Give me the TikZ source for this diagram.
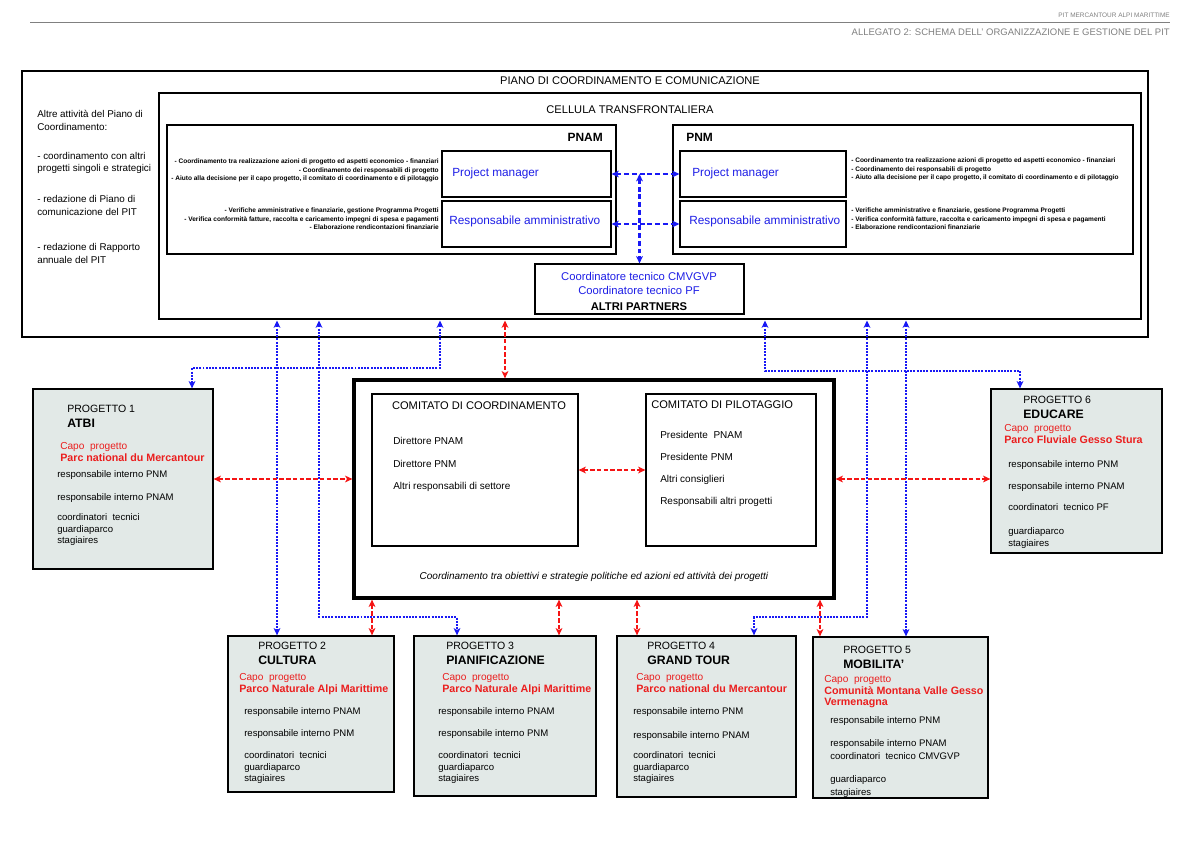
\documentclass[tikz,border=0pt]{standalone}
\usepackage{fontspec}
\setmainfont{Liberation Sans}
\usepackage{tikz}
\usetikzlibrary{arrows.meta, positioning, fit, calc}
\usepackage{xcolor}
\definecolor{pitblue}{RGB}{30,30,230}
\definecolor{pitred}{RGB}{235,30,30}
\definecolor{linkblue}{RGB}{25,25,245}
\definecolor{linkred}{RGB}{245,20,20}
\definecolor{progfill}{RGB}{226,233,231}
\definecolor{headgray}{RGB}{128,128,128}

\begin{document}
\begin{tikzpicture}[x=0.025cm, y=-0.025cm,
        >={Stealth[length=5.2pt, width=4.8pt, inset=1.4pt]},
        box/.style={rectangle, draw=black, line width=0.8pt, inner sep=0pt},
        thickbox/.style={box, line width=2.1pt},
        progbox/.style={box, fill=progfill, line width=0.9pt},
        txt/.style={inner sep=0pt, align=left, anchor=north west},
        bigtxt/.style={inner sep=0pt, font=\fontsize{7.9}{9.5}\selectfont},
        pmtxt/.style={inner sep=0pt, anchor=base west, text=pitblue, font=\fontsize{8.4}{10}\selectfont},
        desc/.style={inner sep=0pt, font=\fontsize{4.65}{6.1}\selectfont\bfseries},
        progtit/.style={txt, font=\fontsize{7.5}{10.7}\selectfont},
        capo/.style={txt, text=pitred, font=\fontsize{7.2}{8.1}\selectfont},
        staff/.style={txt, font=\fontsize{6.8}{8.2}\selectfont},
        bluelink/.style={<->, draw=linkblue, line width=1.5pt, dash pattern=on 1.4pt off 0.9pt},
        bluedash/.style={<->, draw=linkblue, line width=1.5pt, dash pattern=on 3.5pt off 2pt},
        redlink/.style={<->, draw=linkred, line width=1.3pt, dash pattern=on 3.2pt off 1.6pt},
    ]
    \path[use as bounding box, fill=white] (0,0) rectangle (1191,842);

    % Intestazione
    \draw[headgray, line width=0.6pt] (30,22) -- (1170,22);
    \node[inner sep=0pt, anchor=base east, text=headgray, font=\fontsize{4.6}{5}\selectfont] (pit) at (1170,17)
        {PIT MERCANTOUR ALPI MARITTIME};
    \node[inner sep=0pt, anchor=base east, text=headgray, font=\fontsize{6.75}{8}\selectfont] (allegato) at (1170,35)
        {ALLEGATO 2: SCHEMA DELL’ ORGANIZZAZIONE E GESTIONE DEL PIT};

    % Piano di coordinamento
    \node[box, fit={(22,71) (1148,337)}] (piano) {};
    \node[bigtxt, anchor=base] (pianotit) at (630,84) {PIANO DI COORDINAMENTO E COMUNICAZIONE};
    \node[txt, font=\fontsize{7.0}{9.1}\selectfont] (attivita) at (37,109.8)
        {Altre attività del Piano di\\Coordinamento:\\[11.5pt]- coordinamento con altri\\progetti singoli e strategici\\[12.6pt]- redazione di Piano di\\comunicazione del PIT\\[16.1pt]- redazione di Rapporto\\annuale del PIT};

    % Cellula transfrontaliera
    \node[thickbox, fit={(159,93) (1141,319)}] (cellula) {};
    \node[bigtxt, anchor=base] (cellulatit) at (630,113) {CELLULA TRANSFRONTALIERA};

    % PNAM
    \node[box, fit={(167,125) (616,254)}] (pnam) {};
    \node[inner sep=0pt, anchor=base east, font=\fontsize{8.5}{10}\selectfont\bfseries] (pnamtit) at (603,141.3) {PNAM};
    \node[box, fit={(442,151) (611,197)}] (pnamPM) {};
    \node[box, fit={(442,201) (611,247)}] (pnamRA) {};
    \node[pmtxt] (pnamPMtxt) at (452,176.3) {Project manager};
    \node[pmtxt] (pnamRAtxt) at (449,224.3) {Responsabile amministrativo};
    \node[desc, anchor=north east, align=right] (pnamPMdesc) at (439,158.5)
        {- Coordinamento tra realizzazione azioni di progetto ed aspetti economico - finanziari\\- Coordinamento dei responsabili di progetto\\- Aiuto alla decisione per il capo progetto, il comitato di coordinamento e di pilotaggio};
    \node[desc, anchor=north east, align=right] (pnamRAdesc) at (439,207.5)
        {- Verifiche amministrative e finanziarie, gestione Programma Progetti\\- Verifica conformità fatture, raccolta e caricamento impegni di spesa e pagamenti\\- Elaborazione rendicontazioni finanziarie};

    % PNM
    \node[box, fit={(673,125) (1133,254)}] (pnm) {};
    \node[inner sep=0pt, anchor=base west, font=\fontsize{8.5}{10}\selectfont\bfseries] (pnmtit) at (686,141.3) {PNM};
    \node[box, fit={(680,151) (846,197)}] (pnmPM) {};
    \node[box, fit={(680,201) (846,247)}] (pnmRA) {};
    \node[pmtxt] (pnmPMtxt) at (692,176.3) {Project manager};
    \node[pmtxt] (pnmRAtxt) at (689,224.3) {Responsabile amministrativo};
    \node[desc, anchor=north west, align=left] (pnmPMdesc) at (851,157.8)
        {- Coordinamento tra realizzazione azioni di progetto ed aspetti economico - finanziari\\- Coordinamento dei responsabili di progetto\\- Aiuto alla decisione per il capo progetto, il comitato di coordinamento e di pilotaggio};
    \node[desc, anchor=north west, align=left] (pnmRAdesc) at (851,207.8)
        {- Verifiche amministrative e finanziarie, gestione Programma Progetti\\- Verifica conformità fatture, raccolta e caricamento impegni di spesa e pagamenti\\- Elaborazione rendicontazioni finanziarie};

    % Coordinatori tecnici
    \node[box, fit={(535,264) (744,314)}] (coord) {};
    \node[inner sep=0pt, anchor=north, align=center, text=pitblue, font=\fontsize{8}{10}\selectfont] (coordtxt) at (639,271.9)
        {Coordinatore tecnico CMVGVP\\Coordinatore tecnico PF\\[1.4pt]\textcolor{black}{\bfseries ALTRI PARTNERS}};

    % Collegamenti interni
    \draw[bluedash] (pnamPM.east) -- (pnmPM.west);
    \draw[bluedash] (pnamRA.east) -- (pnmRA.west);
    \draw[bluedash] (pnamPM.east -| coord.north) -- (coord.north);

    % Comitati
    \node[thickbox, line width=2.3pt, fit={(354,380) (834,598)}] (comitato) {};
    \node[box, fit={(372,394) (578,546)}] (cdc) {};
    \node[box, fit={(646,394) (816,546)}] (cdp) {};
    \node[bigtxt, anchor=base] (cdctit) at (479,409) {COMITATO DI COORDINAMENTO};
    \node[bigtxt, anchor=base west] (cdptit) at (651,408) {COMITATO DI PILOTAGGIO};
    \node[txt, font=\fontsize{7.1}{16}\selectfont] (cdclist) at (393,437.3)
        {Direttore PNAM\\Direttore PNM\\Altri responsabili di settore};
    \node[txt, font=\fontsize{7.1}{15.65}\selectfont] (cdplist) at (660,431.3)
        {Presidente\ \ PNAM\\Presidente PNM\\Altri consiglieri\\Responsabili altri progetti};
    \node[inner sep=0pt, anchor=base, font=\fontsize{7.1}{9}\selectfont\itshape] (comitatonota) at (594,579.5)
        {Coordinamento tra obiettivi e strategie politiche ed azioni ed attività dei progetti};
    \draw[redlink] (cdc.east) -- (cdp.west);

    % Progetto 1
    \node[progbox, fit={(33,389) (213,569)}] (p1) {};
    \node[progtit] (p1tit) at (67,405) {PROGETTO 1\\\textbf{\fontsize{8.7}{10}\selectfont ATBI}};
    \node[capo] (p1capo) at (60,442.3) {Capo\ \ progetto\\\textbf{\fontsize{7.6}{8.1}\selectfont Parc national du Mercantour}};
    \node[staff] (p1staff) at (57,470.4)
        {responsabile interno PNM\\[8.2pt]responsabile interno PNAM\\[6pt]coordinatori\ \ tecnici\\guardiaparco\\stagiaires};

    % Progetto 6
    \node[progbox, fit={(991,389) (1162,553)}] (p6) {};
    \node[progtit] (p6tit) at (1023,396) {PROGETTO 6\\\textbf{\fontsize{8.7}{10}\selectfont EDUCARE}};
    \node[capo] (p6capo) at (1004,424.3) {Capo\ \ progetto\\\textbf{\fontsize{7.6}{8.1}\selectfont Parco Fluviale Gesso Stura}};
    \node[staff] (p6staff) at (1008,460.4)
        {responsabile interno PNM\\[7.5pt]responsabile interno PNAM\\[6.8pt]coordinatori\ \ tecnico PF\\[8.9pt]guardiaparco\\stagiaires};

    % Progetto 2
    \node[progbox, fit={(228,636) (394,792)}] (p2) {};
    \node[progtit] (p2tit) at (258,642) {PROGETTO 2\\\textbf{\fontsize{8.7}{10}\selectfont CULTURA}};
    \node[capo] (p2capo) at (239,673.3) {Capo\ \ progetto\\\textbf{\fontsize{7.6}{8.1}\selectfont Parco Naturale Alpi Marittime}};
    \node[staff] (p2staff) at (244,707.4)
        {responsabile interno PNAM\\[7.5pt]responsabile interno PNM\\[7.5pt]coordinatori\ \ tecnici\\guardiaparco\\stagiaires};

    % Progetto 3
    \node[progbox, fit={(414,636) (596,796)}] (p3) {};
    \node[progtit] (p3tit) at (446,642) {PROGETTO 3\\\textbf{\fontsize{8.7}{10}\selectfont PIANIFICAZIONE}};
    \node[capo] (p3capo) at (442,673.3) {Capo\ \ progetto\\\textbf{\fontsize{7.6}{8.1}\selectfont Parco Naturale Alpi Marittime}};
    \node[staff] (p3staff) at (438,707.4)
        {responsabile interno PNAM\\[7.5pt]responsabile interno PNM\\[7.5pt]coordinatori\ \ tecnici\\guardiaparco\\stagiaires};

    % Progetto 4
    \node[progbox, fit={(617,636) (796,797)}] (p4) {};
    \node[progtit] (p4tit) at (647,642) {PROGETTO 4\\\textbf{\fontsize{8.7}{10}\selectfont GRAND TOUR}};
    \node[capo] (p4capo) at (636,673.3) {Capo\ \ progetto\\\textbf{\fontsize{7.6}{8.1}\selectfont Parco national du Mercantour}};
    \node[staff] (p4staff) at (633,707.4)
        {responsabile interno PNM\\[8.9pt]responsabile interno PNAM\\[6pt]coordinatori\ \ tecnici\\guardiaparco\\stagiaires};

    % Progetto 5
    \node[progbox, fit={(813,637) (988,798)}] (p5) {};
    \node[progtit] (p5tit) at (843,646) {PROGETTO 5\\\textbf{\fontsize{8.7}{10}\selectfont MOBILITA’}};
    \node[capo] (p5capo) at (824,675.3) {Capo\ \ progetto\\\textbf{\fontsize{7.6}{8.1}\selectfont Comunità Montana Valle Gesso}\\\textbf{\fontsize{7.6}{8.1}\selectfont Vermenagna}};
    \node[staff] (p5staff) at (830,716.4)
        {responsabile interno PNM\\[8.2pt]responsabile interno PNAM\\[1pt]coordinatori\ \ tecnico CMVGVP\\[8.2pt]guardiaparco\\[1pt]stagiaires};

    % Collegamenti cellula - progetti
    \coordinate (b1a) at (440,368);
    \coordinate (b1b) at (192,368);
    \coordinate (b2) at (277,0);
    \coordinate (b3a) at (319,617);
    \coordinate (b3b) at (457,617);
    \coordinate (b4a) at (765,371);
    \coordinate (b4b) at (1020,371);
    \coordinate (b5a) at (867,617);
    \coordinate (b5b) at (754,617);
    \coordinate (b6) at (906,0);
    \draw[bluelink] (cellula.south -| b1a) -- (b1a) -- (b1b) -- (p1.north -| b1b);
    \draw[bluelink] (cellula.south -| b2) -- (p2.north -| b2);
    \draw[bluelink] (cellula.south -| b3a) -- (b3a) -- (b3b) -- (p3.north -| b3b);
    \draw[bluelink] (cellula.south -| b4a) -- (b4a) -- (b4b) -- (p6.north -| b4b);
    \draw[bluelink] (cellula.south -| b5a) -- (b5a) -- (b5b) -- (p4.north -| b5b);
    \draw[bluelink] (cellula.south -| b6) -- (p5.north -| b6);

    % Collegamenti comitati - progetti
    \coordinate (r1) at (505,0);
    \coordinate (r2) at (372,0);
    \coordinate (r3) at (559,0);
    \coordinate (r4) at (637,0);
    \coordinate (r5) at (820,0);
    \draw[redlink] (cellula.south -| r1) -- (comitato.north -| r1);
    \draw[redlink] (p1.east) -- (p1.east -| comitato.west);
    \draw[redlink] (comitato.east |- p1.east) -- (p6.west |- p1.east);
    \draw[redlink] (comitato.south -| r2) -- (p2.north -| r2);
    \draw[redlink] (comitato.south -| r3) -- (p3.north -| r3);
    \draw[redlink] (comitato.south -| r4) -- (p4.north -| r4);
    \draw[redlink] (comitato.south -| r5) -- (p5.north -| r5);
\end{tikzpicture}
\end{document}
